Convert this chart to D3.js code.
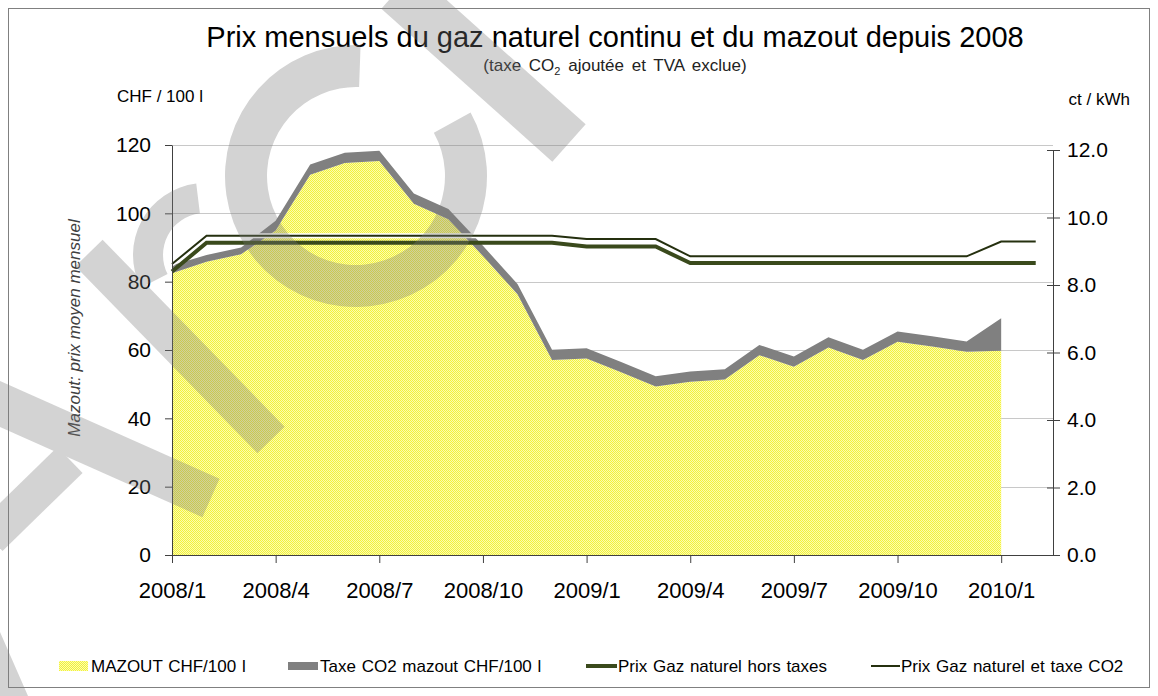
<!DOCTYPE html>
<html>
<head>
<meta charset="utf-8">
<script src="https://cdn.jsdelivr.net/npm/d3@7/dist/d3.min.js"></script>
<style>
  body { margin: 0; background: #fff; }
  svg { display: block; font-family: "Liberation Sans", Arial, sans-serif; }
</style>
</head>
<body>
<svg width="1158" height="696"></svg>
<script>
// Mois (axe des catégories)
const months = [
  "2008/1", "2008/2", "2008/3", "2008/4", "2008/5", "2008/6", "2008/7", "2008/8", "2008/9",
  "2008/10", "2008/11", "2008/12", "2009/1", "2009/2", "2009/3", "2009/4", "2009/5", "2009/6",
  "2009/7", "2009/8", "2009/9", "2009/10", "2009/11", "2009/12", "2010/1", "2010/2"
];

// Mazout CHF/100 l (sans taxe) et taxe CO2 CHF/100 l
const mazout = [82.5, 85.8, 88.0, 95.0, 111.3, 114.7, 115.3, 102.8, 98.3, 87.5, 76.3, 57.1,
  57.5, 53.5, 49.3, 50.7, 51.4, 58.5, 55.1, 60.7, 57.1, 62.4, 61.0, 59.5, 59.8];
const taxeCO2 = [2.3, 2.0, 2.0, 2.8, 3.0, 3.0, 3.0, 3.0, 3.0, 3.0, 3.0, 3.0,
  3.0, 3.0, 3.0, 3.0, 3.0, 3.0, 3.0, 3.0, 3.0, 3.0, 3.0, 3.0, 9.5];

// Gaz naturel ct/kWh
const gazHorsTaxes = [8.40, 9.25, 9.25, 9.25, 9.25, 9.25, 9.25, 9.25, 9.25, 9.25, 9.25, 9.25,
  9.14, 9.14, 9.14, 8.65, 8.65, 8.65, 8.65, 8.65, 8.65, 8.65, 8.65, 8.65, 8.65, 8.65];
const gazTaxeCO2 = [8.62, 9.46, 9.46, 9.46, 9.46, 9.46, 9.46, 9.46, 9.46, 9.46, 9.46, 9.46,
  9.36, 9.36, 9.36, 8.85, 8.85, 8.85, 8.85, 8.85, 8.85, 8.85, 8.85, 8.85, 9.29, 9.29];

const leftTicks = [0, 20, 40, 60, 80, 100, 120];
const rightTicks = [0, 2, 4, 6, 8, 10, 12];
const xTickMonths = [0, 3, 6, 9, 12, 15, 18, 21, 24];

const svg = d3.select("svg");
const font = '"Liberation Sans", Arial, sans-serif';

// Motif jaune en damier (cellules de 1 px)
const defs = svg.append("defs");
const pat = defs.append("pattern")
  .attr("id", "checker")
  .attr("width", 4).attr("height", 4)
  .attr("patternUnits", "userSpaceOnUse");
pat.append("rect").attr("width", 4).attr("height", 4).attr("fill", "#fbfbb0");
let cells = "";
for (let r = 0; r < 4; r++) {
  for (let c = 0; c < 4; c++) {
    if ((r + c) % 2 === 0) cells += `M${c},${r}h1v1h-1z`;
  }
}
pat.append("path").attr("d", cells).attr("fill", "#f3f33a").attr("shape-rendering", "crispEdges");

svg.append("rect").attr("width", 1158).attr("height", 696).attr("fill", "#fff");

// Cadre
svg.append("rect")
  .attr("x", 8.5).attr("y", 8.5)
  .attr("width", 1141).attr("height", 679)
  .attr("fill", "none").attr("stroke", "#808080");

// Échelles
const x = d3.scaleLinear().domain([0, months.length - 0.5]).range([172, 1053]);
const yL = d3.scaleLinear().domain([0, 120]).range([555, 145]);
const yR = d3.scaleLinear().domain([0, 12]).range([555, 150]);

// Grille
svg.append("g").selectAll("line")
  .data(leftTicks.filter(d => d > 0))
  .join("line")
  .attr("x1", x(0)).attr("x2", x.range()[1])
  .attr("y1", d => Math.round(yL(d)) + 0.5).attr("y2", d => Math.round(yL(d)) + 0.5)
  .attr("stroke", "#c8c8c8");

// Aires mazout + taxe
const oil = mazout.map((v, i) => ({ i, base: v, top: v + taxeCO2[i] }));

svg.append("path")
  .datum(oil)
  .attr("fill", "url(#checker)")
  .attr("d", d3.area().x(d => x(d.i)).y0(yL(0)).y1(d => yL(d.base)));

svg.append("path")
  .datum(oil)
  .attr("fill", "#808080")
  .attr("d", d3.area().x(d => x(d.i)).y0(d => yL(d.base)).y1(d => yL(d.top)));

// Lignes gaz
const gasLine = d3.line().x((d, i) => x(i)).y(d => yR(d));

svg.append("path")
  .datum(gazHorsTaxes)
  .attr("fill", "none")
  .attr("stroke", "#3a4a1c")
  .attr("stroke-width", 4)
  .attr("d", gasLine);

svg.append("path")
  .datum(gazTaxeCO2)
  .attr("fill", "none")
  .attr("stroke", "#ffffff")
  .attr("stroke-width", 5)
  .attr("d", gasLine);

svg.append("path")
  .datum(gazTaxeCO2)
  .attr("fill", "none")
  .attr("stroke", "#25300f")
  .attr("stroke-width", 2)
  .attr("d", gasLine);

// Axes
const axisColor = "#404040";

const gx = svg.append("g")
  .attr("transform", "translate(0,555)")
  .call(d3.axisBottom(x).tickValues(xTickMonths).tickFormat(i => months[i])
    .tickSize(8).tickPadding(19).tickSizeOuter(0));
gx.attr("font-family", font).attr("font-size", 22);

const gl = svg.append("g")
  .attr("transform", "translate(172,0)")
  .call(d3.axisLeft(yL).tickValues(leftTicks).tickSize(7).tickPadding(14).tickSizeOuter(0));
gl.attr("font-family", font).attr("font-size", 21);

const gr = svg.append("g")
  .attr("transform", "translate(1053,0)")
  .call(d3.axisRight(yR).tickValues(rightTicks).tickFormat(d3.format(".1f"))
    .tickSize(7).tickPadding(7).tickSizeOuter(0));
gr.attr("font-family", font).attr("font-size", 21);
gr.selectAll(".tick line").attr("x1", -6);

[gx, gl, gr].forEach(g => {
  g.selectAll(".domain, .tick line").attr("stroke", axisColor);
  g.selectAll("text").attr("fill", "#000");
});

// Titres
svg.append("text")
  .attr("x", 615).attr("y", 47)
  .attr("text-anchor", "middle")
  .attr("font-size", 29)
  .text("Prix mensuels du gaz naturel continu et du mazout depuis 2008");

const sub = svg.append("text")
  .attr("x", 615).attr("y", 71)
  .attr("text-anchor", "middle")
  .attr("font-size", 17)
  .attr("word-spacing", 3)
  .attr("fill", "#222");
sub.append("tspan").text("(taxe CO");
sub.append("tspan").attr("font-size", 11).attr("dy", 4).text("2");
sub.append("tspan").attr("dy", -4).text(" ajoutée  et TVA exclue)");

svg.append("text")
  .attr("x", 117).attr("y", 102)
  .attr("font-size", 17)
  .text("CHF / 100 l");

svg.append("text")
  .attr("x", 1130).attr("y", 105)
  .attr("text-anchor", "end")
  .attr("font-size", 17)
  .text("ct / kWh");

svg.append("text")
  .attr("transform", "translate(80,328) rotate(-90)")
  .attr("text-anchor", "middle")
  .attr("font-size", 17)
  .attr("font-style", "italic")
  .attr("fill", "#404040")
  .text("Mazout: prix moyen mensuel");

// Légende
const legendItems = [
  { label: "MAZOUT CHF/100 l", kind: "checker", x: 59 },
  { label: "Taxe CO2 mazout CHF/100 l", kind: "gray", x: 288 },
  { label: "Prix Gaz naturel hors taxes", kind: "thick", x: 586 },
  { label: "Prix Gaz naturel et taxe CO2", kind: "thin", x: 871 }
];

const legend = svg.append("g");
legendItems.forEach(it => {
  const g = legend.append("g").attr("transform", `translate(${it.x},0)`);
  if (it.kind === "checker") {
    g.append("rect").attr("y", 661).attr("width", 29).attr("height", 10).attr("fill", "url(#checker)");
  } else if (it.kind === "gray") {
    g.append("rect").attr("y", 662).attr("width", 30).attr("height", 8).attr("fill", "#808080");
  } else if (it.kind === "thick") {
    g.append("line").attr("x1", 0).attr("x2", 31).attr("y1", 666).attr("y2", 666)
      .attr("stroke", "#3a4a1c").attr("stroke-width", 4);
  } else {
    g.append("line").attr("x1", 0).attr("x2", 29).attr("y1", 666).attr("y2", 666)
      .attr("stroke", "#25300f").attr("stroke-width", 2);
  }
  g.append("text")
    .attr("x", it.kind === "thin" ? 30 : 32).attr("y", 672)
    .attr("font-size", 17)
    .attr("word-spacing", 1)
    .text(it.label);
});

// Filigrane
const rad = d => d * Math.PI / 180;
const wm = svg.append("g").attr("opacity", 0.33).attr("fill", "#7a7a7a").attr("stroke", "#7a7a7a");

wm.append("path")
  .attr("transform", "translate(356,176)")
  .attr("stroke", "none")
  .attr("d", d3.arc().innerRadius(89).outerRadius(131).startAngle(rad(61)).endAngle(rad(362))());

wm.append("path")
  .attr("transform", "translate(205,255)")
  .attr("stroke", "none")
  .attr("d", d3.arc().innerRadius(42).outerRadius(72).startAngle(rad(243)).endAngle(rad(353))());

const bands = [
  { x1: 398, y1: -10, x2: 569, y2: 143, w: 50 },
  { x1: 89, y1: 253, x2: 271, y2: 440, w: 38 },
  { x1: -20, y1: 395, x2: 211, y2: 498, w: 42 },
  { x1: -10, y1: 538, x2: 70, y2: 460, w: 36 }
];
bands.forEach(b => {
  wm.append("line")
    .attr("x1", b.x1).attr("y1", b.y1).attr("x2", b.x2).attr("y2", b.y2)
    .attr("stroke-width", b.w).attr("fill", "none");
});
wm.append("path").attr("stroke", "none").attr("d", "M0,632L28,696L0,696Z");
</script>
</body>
</html>
